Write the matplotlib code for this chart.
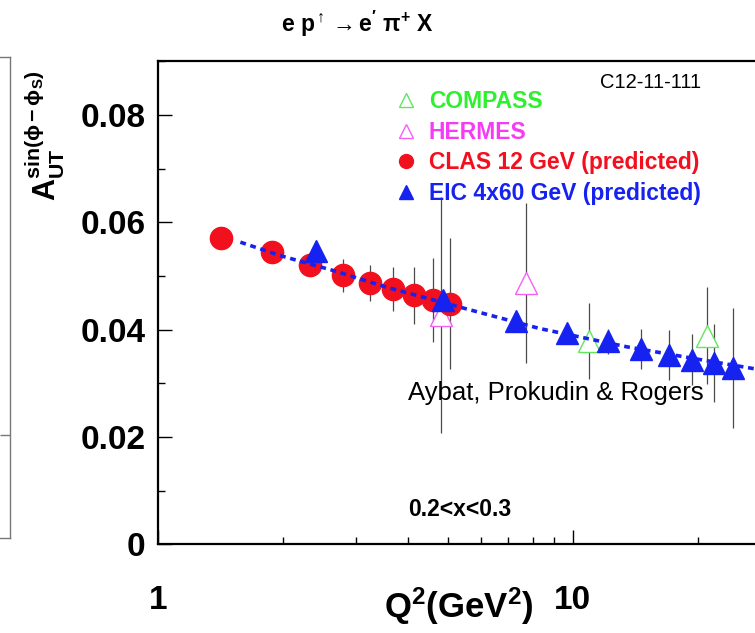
import numpy as np
import matplotlib
matplotlib.use("Agg")
import matplotlib.pyplot as plt
from matplotlib.lines import Line2D
from matplotlib.ticker import FixedLocator, NullFormatter, FuncFormatter, MultipleLocator

plt.rcParams['font.family'] = ['Liberation Sans', 'DejaVu Sans']
plt.rcParams['mathtext.fontset'] = 'custom'
plt.rcParams['mathtext.rm'] = 'Liberation Sans'
plt.rcParams['mathtext.bf'] = 'Liberation Sans:bold'
plt.rcParams['mathtext.it'] = 'Liberation Sans:italic'

# CLAS 12 GeV (predicted)
clas_q2 = [1.42, 1.88, 2.33, 2.79, 3.25, 3.68, 4.14, 4.61, 5.06]
clas_a = [0.0570, 0.0544, 0.0520, 0.0501, 0.0487, 0.0475, 0.0464, 0.0455, 0.0448]
clas_err = [0.0, 0.0, 0.0019, 0.0030, 0.0034, 0.0041, 0.0053, 0.0078, 0.0122]

# EIC 4x60 GeV (predicted)
eic_q2 = [2.41, 4.86, 7.30, 9.70, 12.19, 14.61, 17.10, 19.43, 21.91, 24.39]
eic_a = [0.0546, 0.0455, 0.0417, 0.0394, 0.0378, 0.0364, 0.0353, 0.0344, 0.0338, 0.0329]
eic_err = [0.0, 0.0015, 0.0, 0.0, 0.0024, 0.0038, 0.0046, 0.0047, 0.0072, 0.0112]

# HERMES
hermes_q2 = [4.81, 7.70]
hermes_a = [0.0427, 0.0487]
hermes_err = [0.0220, 0.0149]

# COMPASS
compass_q2 = [10.97, 21.04]
compass_a = [0.0379, 0.0389]
compass_err = [0.0071, 0.0091]

# Aybat, Prokudin & Rogers curve
theory_q2 = [1.58, 1.97, 2.65, 3.56, 5.34, 8.33, 13.5, 20.0, 30.0]
theory_a = [0.0563, 0.0538, 0.0510, 0.0479, 0.0442, 0.0402, 0.0368, 0.0345, 0.0322]

c_red = '#f2101e'
c_blue = '#1622f0'
c_green = '#5fe85f'
c_green_txt = '#2ef02e'
c_mag = '#f760f7'
c_err = '#4a4a4a'

fig = plt.figure(figsize=(7.55, 6.33), dpi=100)

# piece of the neighbouring panel at the left edge
ax0 = fig.add_axes([-0.5, 1 - 538 / 633, 0.5 + 10 / 755, (538 - 57) / 633])
ax0.set_xticks([])
ax0.set_ylim(0, 1)
ax0.yaxis.tick_right()
ax0.set_yticks([0.214])
ax0.set_yticklabels([])
ax0.tick_params(axis='y', direction='in', length=7, color='#777777', width=1)
for s in ax0.spines.values():
    s.set_color('#777777')
    s.set_linewidth(1)

xmax = 30.0
ax = fig.add_axes([158 / 755, 1 - 544.3 / 633, np.log10(xmax) * 414.7 / 755, (544.3 - 61.3) / 633])
ax.set_xscale('log')
ax.set_xlim(1, xmax)
ax.set_ylim(0, 0.09)

# error bars
ax.errorbar(hermes_q2, hermes_a, yerr=hermes_err, fmt='none', ecolor=c_err, elinewidth=0.9, zorder=2)
ax.errorbar(compass_q2, compass_a, yerr=compass_err, fmt='none', ecolor=c_err, elinewidth=0.9, zorder=2)
ax.errorbar(clas_q2, clas_a, yerr=clas_err, fmt='none', ecolor=c_err, elinewidth=0.9, zorder=2)
ax.errorbar(eic_q2, eic_a, yerr=eic_err, fmt='none', ecolor=c_err, elinewidth=0.9, zorder=2)

ax.plot(hermes_q2, hermes_a, '^', ms=16, mfc='white', mec=c_mag, mew=1.0, ls='none', zorder=3)
ax.plot(compass_q2, compass_a, '^', ms=16, mfc='white', mec=c_green, mew=1.0, ls='none', zorder=3)
ax.plot(clas_q2, clas_a, 'o', ms=16, color=c_red, mec=c_red, ls='none', zorder=4)
ax.plot(theory_q2, theory_a, color=c_blue, lw=2.6, ls=(0, (1.6, 1.3)), zorder=5)
ax.plot(eic_q2, eic_a, '^', ms=15.5, color=c_blue, mec=c_blue, ls='none', zorder=6)

# axes styling
for side in ['left', 'bottom', 'top']:
    ax.spines[side].set_linewidth(1.6)
ax.spines['right'].set_visible(False)

ax.yaxis.set_major_locator(MultipleLocator(0.02))
ax.yaxis.set_minor_locator(MultipleLocator(0.01))
ax.yaxis.set_major_formatter(FuncFormatter(lambda v, p: '0' if v == 0 else f'{v:.2f}'))
ax.xaxis.set_major_locator(FixedLocator([1, 10]))
ax.xaxis.set_minor_locator(FixedLocator([2, 3, 4, 5, 6, 7, 8, 9, 20, 30]))
ax.xaxis.set_major_formatter(FuncFormatter(lambda v, p: f'{v:g}'))
ax.xaxis.set_minor_formatter(NullFormatter())

ax.tick_params(axis='both', which='major', direction='in', length=10, width=1, top=False, right=False)
ax.tick_params(axis='both', which='minor', direction='in', length=5, width=1, top=False, right=False)
ax.tick_params(axis='y', which='major', labelsize=24, pad=9)
ax.tick_params(axis='x', which='major', labelsize=24, pad=29)
for lab in ax.get_xticklabels() + ax.get_yticklabels():
    lab.set_fontweight('bold')

# legend
handles = [
    Line2D([], [], marker='^', ls='none', ms=10, mfc='white', mec=c_green, mew=1.0),
    Line2D([], [], marker='^', ls='none', ms=10, mfc='white', mec=c_mag, mew=1.0),
    Line2D([], [], marker='o', ls='none', ms=10, color=c_red),
    Line2D([], [], marker='^', ls='none', ms=10, color=c_blue),
]
labels = ['COMPASS', 'HERMES', 'CLAS 12 GeV (predicted)', 'EIC 4x60 GeV (predicted)']
leg = ax.legend(handles, labels, loc='upper left', bbox_to_anchor=(0.39, 0.94), frameon=False,
                prop={'size': 16.5, 'weight': 'bold'}, handlelength=0.8, handletextpad=0.6,
                labelspacing=0.33, borderpad=0, borderaxespad=0,
                labelcolor=[c_green_txt, '#f53cf5', c_red, c_blue])

# texts
fig.text(600 / 755, 1 - 83 / 633, 'C12-11-111', fontsize=14.5, va='center', ha='left')
fig.text(408 / 755, 1 - 393 / 633, 'Aybat, Prokudin & Rogers', fontsize=18.5, va='center', ha='left')
fig.text(408 / 755, 1 - 509 / 633, '0.2<x<0.3', fontsize=16.5, fontweight='bold', va='center', ha='left')
fig.text(357 / 755, 1 - 24 / 633, r"$\mathbf{e\ p^{\uparrow}\rightarrow e'\ \pi^{+}\ X}$",
         fontsize=16.5, va='center', ha='center')
fig.text(459 / 755, 1 - 606 / 633, r'$\mathbf{Q^{2}(GeV^{2})}$', fontsize=25, va='center', ha='center')
fig.text(45 / 755, 1 - 136 / 633, r'$\mathbf{A_{UT}^{sin(\phi-\phi_{S})}}$', fontsize=22,
         rotation=90, va='center', ha='center')

fig.savefig('out.png', dpi=100)
